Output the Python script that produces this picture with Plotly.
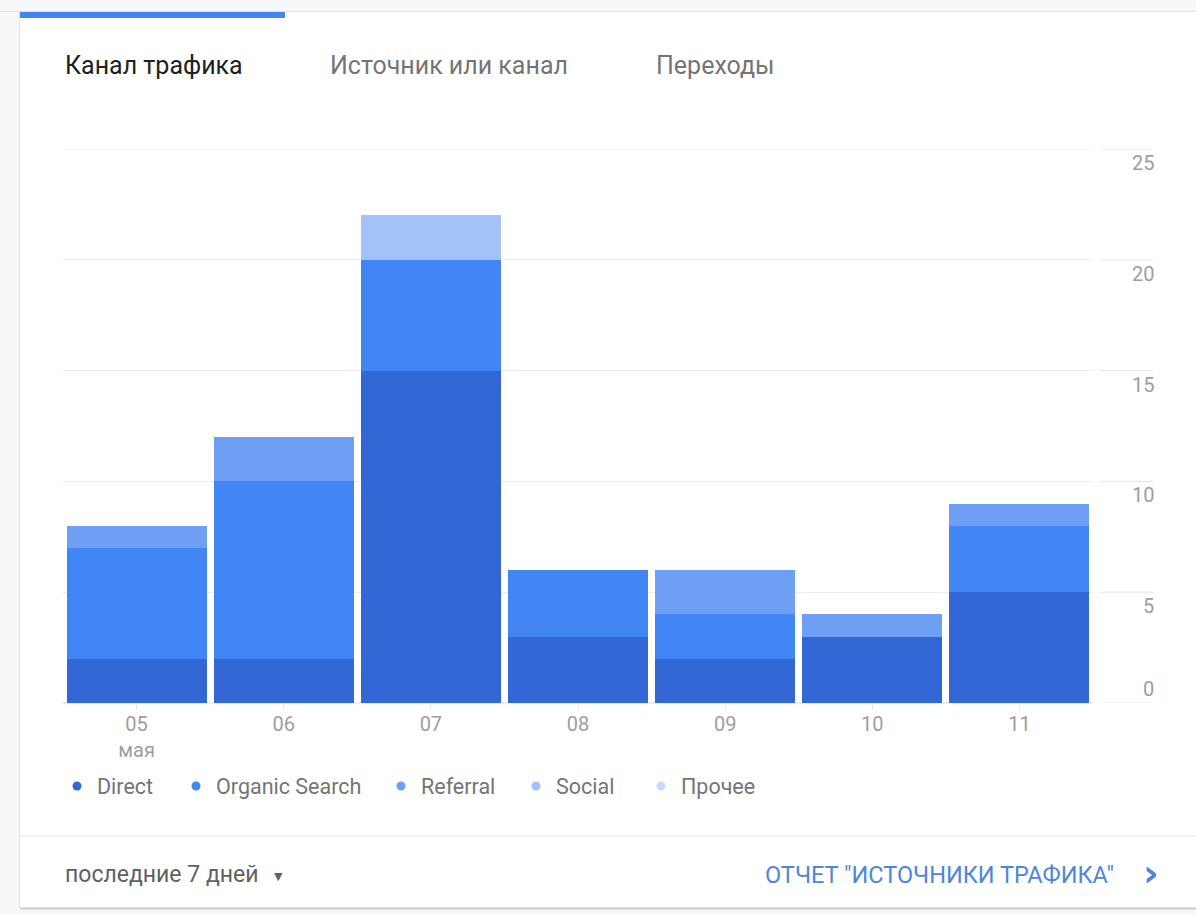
import plotly.graph_objects as go

# ---- data ----
days = ["05<br>мая", "06", "07", "08", "09", "10", "11"]
direct = [2, 2, 15, 3, 2, 3, 5]
organic = [5, 8, 5, 3, 2, 0, 3]
referral = [1, 2, 0, 0, 2, 1, 1]
social = [0, 0, 2, 0, 0, 0, 0]
other = [0, 0, 0, 0, 0, 0, 0]
series_names = ["Direct", "Organic Search", "Referral", "Social", "Прочее"]
series_values = [direct, organic, referral, social, other]
colors = ["#3367d6", "#4285f4", "#6e9ff5", "#a3c2f8", "#c9dbfb"]
y_ticks = [0, 5, 10, 15, 20, 25]

W, H = 1196, 914
L, R, T, B = 63, 103, 149, 211
PW, PH = W - L - R, H - T - B


def px(x):
    return (x - L) / PW


def py(y):
    return (H - B - y) / PH


FONT = "Roboto"
fig = go.Figure()
for name, vals, c in zip(series_names, series_values, colors):
    fig.add_trace(go.Bar(x=days, y=vals, name=name, marker=dict(color=c, line=dict(width=0)),
                         showlegend=False, hoverinfo="skip"))

legend_dot_x = [77, 196, 401, 536, 661]
legend_layouts = {}
for i, (name, c, dx) in enumerate(zip(series_names, colors, legend_dot_x)):
    lname = "legend" if i == 0 else f"legend{i + 1}"
    fig.add_trace(go.Scatter(x=[None], y=[None], mode="markers", name=name, legend=lname,
                             marker=dict(color=c, size=9, symbol="circle")))
    legend_layouts[lname] = dict(orientation="h", x=px(dx - 20), y=py(786), xanchor="left", yanchor="middle",
                                 font=dict(family=FONT, size=21.5, color="#757575"), itemwidth=30,
                                 bgcolor="rgba(0,0,0,0)")

shapes = []
annotations = []
# top gridline (range edge) and right-side short gridlines + labels
shapes.append(dict(type="line", xref="paper", yref="y", x0=0, x1=px(1092), y0=25, y1=25,
                   line=dict(color="#ececec", width=1)))
for v in y_ticks:
    shapes.append(dict(type="line", xref="paper", yref="y", x0=px(1100), x1=px(1153), y0=v, y1=v,
                       line=dict(color="#e6e6e6", width=1)))
    annotations.append(dict(xref="paper", yref="y", x=px(1156), y=v, xanchor="right", yanchor="middle",
                            yshift=(14 if v == 0 else -14), text=str(v), showarrow=False,
                            font=dict(family=FONT, size=20, color="#9e9e9e")))

# card decoration
shapes += [
    dict(type="rect", xref="paper", yref="paper", x0=px(0), x1=px(19), y0=py(0), y1=py(H),
         fillcolor="#f7f8f9", line=dict(width=0), layer="below"),
    dict(type="rect", xref="paper", yref="paper", x0=px(0), x1=px(W), y0=py(0), y1=py(11),
         fillcolor="#f7f8f9", line=dict(width=0), layer="below"),
    dict(type="rect", xref="paper", yref="paper", x0=px(0), x1=px(W), y0=py(910), y1=py(H),
         fillcolor="#f7f8f9", line=dict(width=0), layer="below"),
    dict(type="line", xref="paper", yref="paper", x0=px(0), x1=px(W), y0=py(11.5), y1=py(11.5),
         line=dict(color="#e3e3e3", width=1)),
    dict(type="line", xref="paper", yref="paper", x0=px(19.5), x1=px(19.5), y0=py(12), y1=py(908),
         line=dict(color="#e3e3e3", width=1)),
    dict(type="rect", xref="paper", yref="paper", x0=px(20), x1=px(285), y0=py(12), y1=py(18),
         fillcolor="#4285f4", line=dict(width=0)),
    dict(type="line", xref="paper", yref="paper", x0=px(20), x1=px(W), y0=py(836), y1=py(836),
         line=dict(color="#e3e3e3", width=1)),
    dict(type="line", xref="paper", yref="paper", x0=px(20), x1=px(W), y0=py(908.5), y1=py(908.5),
         line=dict(color="#c9c9c9", width=2)),
]

# tabs
for txt, x, col in [("Канал трафика", 63, "#212121"), ("Источник или канал", 328, "#757575"),
                    ("Переходы", 654, "#757575")]:
    annotations.append(dict(xref="paper", yref="paper", x=px(x), y=py(65), xanchor="left", yanchor="middle",
                            text=txt, showarrow=False, font=dict(family=FONT, size=25, color=col)))
# footer
annotations += [
    dict(xref="paper", yref="paper", x=px(63), y=py(874), xanchor="left", yanchor="middle",
         text="последние 7 дней", showarrow=False, font=dict(family=FONT, size=23, color="#616161")),
    dict(xref="paper", yref="paper", x=px(278), y=py(876), xanchor="center", yanchor="middle",
         text="▼", showarrow=False, font=dict(family="DejaVu Sans", size=11, color="#616161")),
    dict(xref="paper", yref="paper", x=px(1116), y=py(875), xanchor="right", yanchor="middle",
         text="ОТЧЕТ \"ИСТОЧНИКИ ТРАФИКА\"", showarrow=False,
         font=dict(family=FONT, size=23.5, color="#4f86db")),
    dict(xref="paper", yref="paper", x=px(1151), y=py(873), xanchor="center", yanchor="middle",
         text="<b>›</b>", showarrow=False, font=dict(family="DejaVu Sans", size=38, color="#4f86db")),
]

fig.update_layout(
    width=W, height=H, barmode="stack", bargap=0.048,
    margin=dict(l=L, r=R, t=T, b=B, pad=0),
    paper_bgcolor="white", plot_bgcolor="white",
    font=dict(family=FONT),
    shapes=shapes, annotations=annotations,
    xaxis=dict(type="category", showgrid=False, showline=False, zeroline=False,
               ticks="outside", ticklen=6, tickcolor="#e6e6e6", ticklabelstandoff=-3,
               tickfont=dict(family=FONT, size=20, color="#9e9e9e")),
    yaxis=dict(range=[0, 25], tickvals=y_ticks, showticklabels=False, showgrid=True,
               gridcolor="#ececec", gridwidth=1, zeroline=True, zerolinecolor="#ececec",
               showline=False, fixedrange=True),
    hovermode=False,
)
fig.update_layout(**legend_layouts)

fig.write_html("out.html")
